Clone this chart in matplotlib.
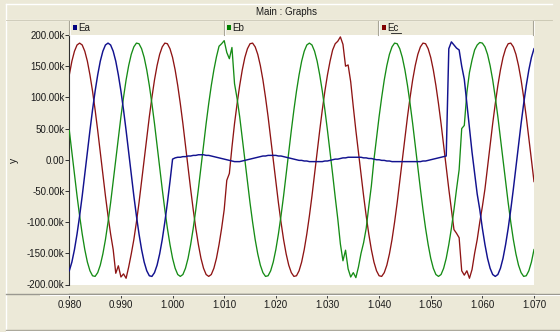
import numpy as np
import matplotlib
matplotlib.use("Agg")
import matplotlib.pyplot as plt
from matplotlib.lines import Line2D
from matplotlib.patches import Rectangle

plt.rcParams['font.family'] = ['Liberation Sans', 'DejaVu Sans']

# ---------------- data (values in kV-ish units, "k") ----------------
t_start = 0.980          # s
t_step = 0.0005          # s, sampling of the read-off values

ea_k = [-178,-164,-144,-119,-90,-58,-23,12,47,80,
        110,136,158,174,184,187,184,174,158,136,
        110,80,47,12,-23,-58,-90,-119,-144,-164,
        -178,-186,-187,-181,-169,-151,-128,-100,-69,-35,
        1,3,4,4,5,5,6,6,7,7,
        8,8,8,7,7,6,5,4,3,2,
        1,0,-1,-2,-3,-3,-3,-2,-1,0,
        1,2,3,4,5,6,6,7,7,7,
        7,6,6,5,4,3,2,1,0,-1,
        -1,-2,-2,-3,-3,-3,-3,-3,-3,-2,
        -2,-1,0,1,1,2,3,3,4,4,
        4,4,4,4,3,3,2,2,1,0,
        0,-1,-1,-2,-2,-3,-3,-3,-3,-3,
        -3,-3,-3,-3,-3,-3,-3,-2,-2,-1,
        0,1,2,3,4,5,6,178,189,184,
        179,176,150,129,90,52,12,-22,-55,-80,
        -110,-136,-158,-174,-184,-187,-184,-174,-158,-136,
        -110,-80,-47,-12,23,58,90,119,144,164,
        178]

eb_k = [47,12,-23,-58,-90,-119,-144,-164,-178,-186,
        -187,-181,-169,-151,-128,-100,-69,-35,0,35,
        69,100,128,151,169,181,187,186,178,164,
        144,119,90,58,23,-12,-47,-80,-110,-136,
        -158,-174,-184,-187,-184,-174,-158,-136,-110,-80,
        -47,-12,23,58,90,119,144,165,182,186,
        191,172,162,180,122,98,69,35,0,-35,
        -69,-100,-128,-151,-169,-181,-187,-186,-178,-164,
        -144,-119,-90,-58,-23,12,47,80,110,136,
        158,174,184,187,184,174,158,136,110,80,
        47,12,-23,-60,-95,-135,-162,-145,-175,-188,
        -181,-189,-172,-150,-133,-110,-75,-42,0,35,
        69,100,128,151,169,181,187,186,178,164,
        144,119,90,58,23,-12,-47,-80,-110,-136,
        -158,-174,-184,-187,-184,-174,-158,-136,-110,-80,
        -47,-16,50,55,108,140,160,176,184,188,
        187,181,169,151,128,100,69,35,0,-35,
        -69,-100,-128,-151,-169,-181,-187,-186,-178,-164,
        -144]

ec_k = [136,158,174,184,187,184,174,158,136,110,
        80,47,12,-23,-58,-90,-119,-144,-182,-170,
        -188,-183,-190,-172,-151,-128,-100,-69,-35,0,
        35,69,100,128,151,169,181,187,186,178,
        164,144,119,90,58,23,-12,-47,-80,-110,
        -136,-158,-174,-184,-187,-184,-174,-158,-136,-110,
        -80,-33,-22,20,58,90,119,144,164,178,
        186,187,181,169,151,128,100,69,35,0,
        -35,-69,-100,-128,-151,-169,-181,-187,-186,-178,
        -164,-144,-119,-90,-58,-23,12,47,80,110,
        136,158,176,186,190,197,185,150,152,125,
        85,47,12,-23,-58,-90,-119,-144,-164,-178,
        -186,-187,-181,-169,-151,-128,-100,-69,-35,0,
        35,69,100,128,151,169,181,187,186,178,
        164,144,119,90,58,23,-12,-47,-80,-112,
        -118,-125,-178,-185,-178,-190,-176,-150,-128,-100,
        -75,-47,-12,23,58,90,119,144,164,178,
        186,187,181,169,151,128,100,69,35,0,
        -35]

series_names = ["Ea", "Eb", "Ec"]
y_ticks = [200, 150, 100, 50, 0, -50, -100, -150, -200]
y_tick_labels = ["200.00k", "150.00k", "100.00k", "50.00k", "0.00",
                 "-50.00k", "-100.00k", "-150.00k", "-200.00k"]
x_ticks = [0.980, 0.990, 1.000, 1.010, 1.020, 1.030, 1.040, 1.050, 1.060, 1.070]
x_tick_labels = ["0.980", "0.990", "1.000", "1.010", "1.020", "1.030",
                 "1.040", "1.050", "1.060", "1.070"]

# ---------------- styling ----------------
BG = "#ECE9D8"
C_A, C_B, C_C = "#12128f", "#168c16", "#8e1414"
W, H = 560, 332

def fx(x):
    return x / W

def fy(y):
    return 1 - y / H

fig = plt.figure(figsize=(W / 100, H / 100), dpi=100)
fig.patch.set_facecolor(BG)

def fline(x0, y0, x1, y1, color, lw=1.0):
    fig.add_artist(Line2D([fx(x0), fx(x1)], [fy(y0), fy(y1)],
                          transform=fig.transFigure, color=color, lw=lw))

# frame lines
fline(6, 3.5, 552, 3.5, "white", 1.0)
fline(6, 3.5, 6, 330, "white", 1.0)
fline(6, 20.3, 533, 20.3, "white", 0.9)
fline(6, 19.5, 552, 19.5, "#c8c4b0", 0.6)

# legend bar dividers
for xd in (68.6, 223.6, 378.0, 533.3):
    fline(xd, 20.5, xd, 34.5, "#a8a597", 0.8)
    fline(xd + 1, 20.5, xd + 1, 34.5, "white", 0.6)

fig.text(fx(286), fy(12.3), "Main : Graphs", ha="center", va="center",
         fontsize=7, color="#1a1a1a")

legend_x = [72.5, 226.7, 381.8]
legend_colors = ["#000080", "#008000", "#800000"]
for lx, col, name in zip(legend_x, legend_colors, series_names):
    fig.add_artist(Rectangle((fx(lx), fy(29.7)), 4.3 / W, 4.3 / H,
                             transform=fig.transFigure, facecolor=col,
                             edgecolor="none"))
    fig.text(fx(lx + 5.6), fy(27.8), name, ha="left", va="center",
             fontsize=7, color="#1a1a1a")
fline(391.2, 33.2, 400.8, 33.2, "#1a1a1a", 0.6)

# main plot area
left, right, top, bottom = 69.3, 534.0, 35.0, 284.5
ax = fig.add_axes([fx(left), fy(bottom), fx(right) - fx(left), fy(top) - fy(bottom)])
ax.set_facecolor("white")

t = t_start + t_step * np.arange(len(ea_k))
ax.plot(t, ec_k, color=C_C, lw=0.95, zorder=2)
ax.plot(t, eb_k, color=C_B, lw=0.95, zorder=3)
ax.plot(t, ea_k, color=C_A, lw=1.05, zorder=4)

ax.set_xlim(0.980, 1.070)
ax.set_ylim(-200, 200)

for s in ("top", "right"):
    ax.spines[s].set_visible(False)
ax.spines["left"].set_color("#303030")
ax.spines["left"].set_linewidth(0.8)
ax.spines["bottom"].set_position(("outward", 6.6))
ax.spines["bottom"].set_color("#505050")
ax.spines["bottom"].set_linewidth(0.9)

ax.set_yticks(y_ticks)
ax.set_yticklabels(y_tick_labels)
ax.set_xticks(x_ticks)
ax.set_xticklabels(x_tick_labels)
ax.tick_params(axis="y", direction="out", length=2.6, width=0.7, pad=0.8,
               labelsize=7, colors="#303030", labelcolor="#1a1a1a")
ax.tick_params(axis="x", direction="out", length=2.6, width=0.7, pad=2.0,
               labelsize=7, colors="#404040", labelcolor="#1a1a1a")

fig.text(fx(14), fy(160), "y", rotation=90, ha="center", va="center",
         fontsize=7.5, color="#1a1a1a")

# x-axis band lines
fline(6, 293.6, 560, 293.6, "#9a9890", 1.0)
fline(40, 294.9, 560, 294.9, "white", 0.7)
fline(6, 329.5, 560, 329.5, "#a8a597", 1.0)
fline(6, 330.6, 560, 330.6, "white", 0.8)

fig.savefig("out.png", dpi=100, facecolor=BG)
